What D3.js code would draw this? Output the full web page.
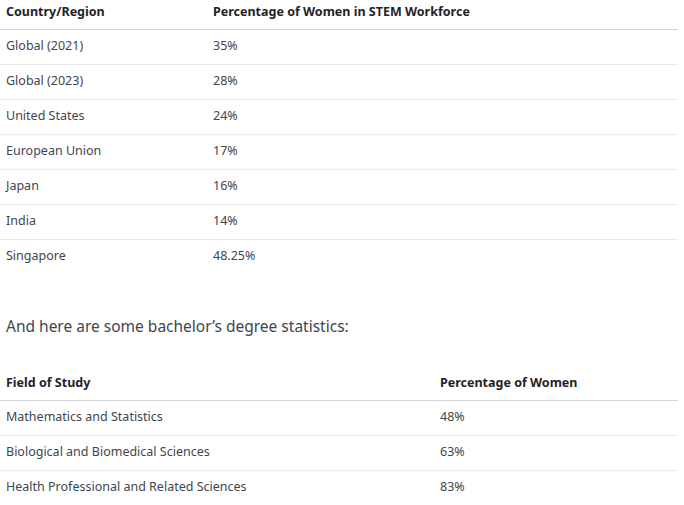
<!DOCTYPE html>
<html>
<head>
<meta charset="utf-8">
<script src="https://cdn.jsdelivr.net/npm/d3@7"></script>
<style>
  body { margin: 0; background: #fff; }
  text { font-family: "Noto Sans", "Open Sans", sans-serif; }
</style>
</head>
<body>
<svg id="chart" width="684" height="505"></svg>
<script>
const regions = ["Global (2021)", "Global (2023)", "United States", "European Union", "Japan", "India", "Singapore"];
const regionShares = ["35%", "28%", "24%", "17%", "16%", "14%", "48.25%"];
const fields = ["Mathematics and Statistics", "Biological and Biomedical Sciences", "Health Professional and Related Sciences"];
const fieldShares = ["48%", "63%", "83%"];
const headers1 = ["Country/Region", "Percentage of Women in STEM Workforce"];
const headers2 = ["Field of Study", "Percentage of Women"];
const note = "And here are some bachelor\u2019s degree statistics:";

const svg = d3.select("#chart");

// one table: header row, then rows of 35px each
function drawTable(top, headers, names, values, col2) {
  const g = svg.append("g").attr("transform", `translate(0,${top})`);
  const y = d3.scaleBand().domain(d3.range(names.length)).range([29, 29 + 35 * names.length]);

  g.selectAll(".hd").data(headers).join("text")
    .attr("x", (d, i) => i ? col2 : 6).attr("y", 16)
    .attr("font-size", 12.5).attr("font-weight", 700).attr("fill", "#1f2328")
    .text(d => d);

  g.append("line").attr("x1", 0).attr("x2", 678).attr("y1", 29.5).attr("y2", 29.5)
    .attr("stroke", "#d0d3d8");

  const rows = g.selectAll(".row").data(names).join("g")
    .attr("transform", (d, i) => `translate(0,${y(i)})`);
  rows.append("text").attr("x", 6).attr("y", 21).attr("font-size", 12.5).attr("fill", "#40464f").text(d => d);
  rows.append("text").attr("x", col2).attr("y", 21).attr("font-size", 12.5).attr("fill", "#40464f")
    .text((d, i) => values[i]);
  rows.filter((d, i) => i < names.length - 1).append("line")
    .attr("x1", 0).attr("x2", 678).attr("y1", 35.5).attr("y2", 35.5).attr("stroke", "#e8eaed");
}

drawTable(0, headers1, regions, regionShares, 213);

svg.append("text").attr("x", 6).attr("y", 332).attr("font-size", 15.5).attr("fill", "#40464f").text(note);

drawTable(371, headers2, fields, fieldShares, 440);
</script>
</body>
</html>
